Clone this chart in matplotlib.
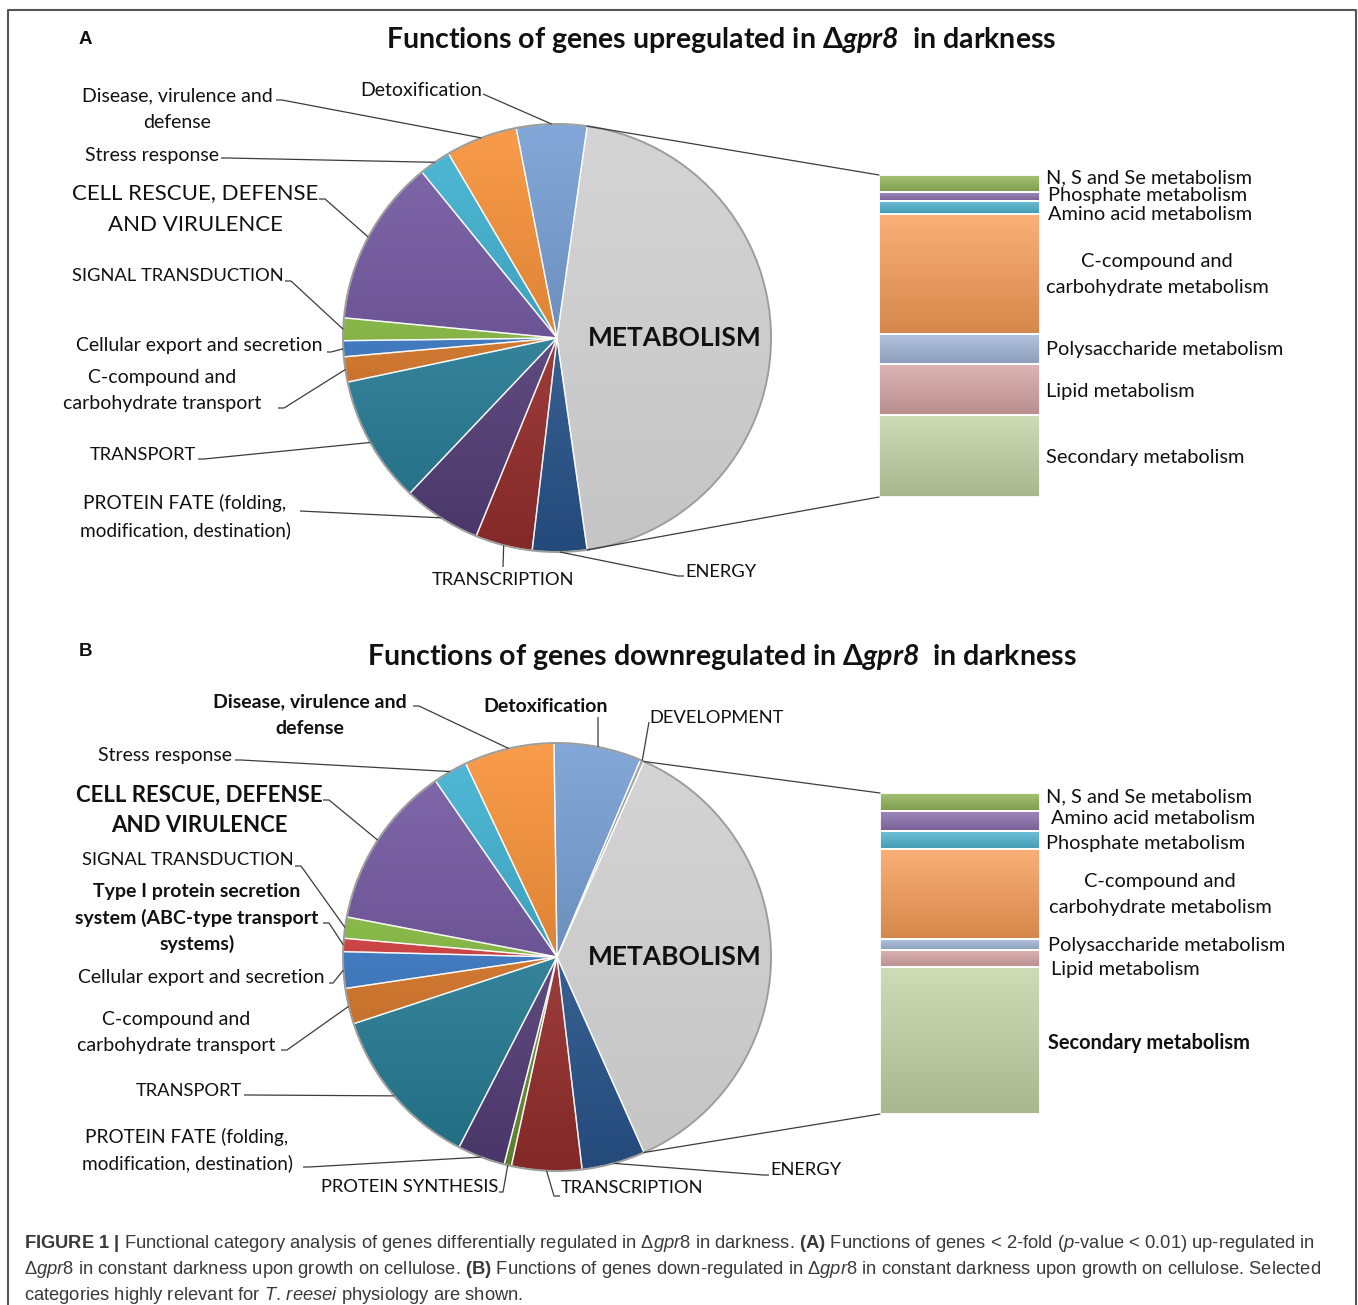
import numpy as np
import matplotlib.pyplot as plt
from matplotlib.colors import to_rgb
from matplotlib.patches import ConnectionPatch, Circle

W, H = 1358, 1305

plt.rcParams['font.family'] = ['Lato', 'DejaVu Sans']
plt.rcParams['mathtext.fontset'] = 'custom'
plt.rcParams['mathtext.rm'] = 'Liberation Sans'
plt.rcParams['mathtext.it'] = 'Liberation Sans:italic'
plt.rcParams['mathtext.bf'] = 'Liberation Sans:bold'
plt.rcParams['mathtext.bfit'] = 'Lato:italic:bold'

# ---- data: percentage of regulated genes per functional category ----
# pie slices listed clockwise, starting after the METABOLISM slice
up_cats = ["ENERGY", "TRANSCRIPTION", "PROTEIN FATE", "TRANSPORT",
           "C-compound transport", "Cellular export", "SIGNAL TRANSDUCTION",
           "CELL RESCUE", "Stress response", "Disease", "Detoxification"]
up_vals = [4.1, 4.3, 5.9, 9.6, 1.9, 1.2, 1.7, 12.6, 2.4, 5.4, 5.3]

down_cats = ["ENERGY", "TRANSCRIPTION", "PROTEIN SYNTHESIS", "PROTEIN FATE",
             "TRANSPORT", "C-compound transport", "Cellular export", "Type I",
             "SIGNAL TRANSDUCTION", "CELL RESCUE", "Stress response", "Disease",
             "Detoxification", "DEVELOPMENT"]
down_vals = [4.8, 5.3, 0.55, 3.6, 12.4, 2.7, 2.75, 1.0, 1.6, 12.4, 2.6, 6.8,
             6.6, 0.3]

# metabolism sub-categories (stacked bar, top to bottom)
up_met_cats = ["N, S and Se", "Phosphate", "Amino acid", "C-compound",
               "Polysaccharide", "Lipid", "Secondary"]
up_met_vals = [2.4, 1.2, 1.9, 16.9, 4.2, 7.3, 11.5]

down_met_cats = ["N, S and Se", "Amino acid", "Phosphate", "C-compound",
                 "Polysaccharide", "Lipid", "Secondary"]
down_met_vals = [2.1, 2.3, 2.0, 10.3, 1.2, 2.0, 16.8]

pie_colors = {
    "METABOLISM": "#cdcdcd", "ENERGY": "#2d5f9c", "TRANSCRIPTION": "#a83432",
    "PROTEIN SYNTHESIS": "#76a13a", "PROTEIN FATE": "#5e4585",
    "TRANSPORT": "#2a8aa6", "C-compound transport": "#e77d27",
    "Cellular export": "#3a7fd2", "Type I": "#e03c3c",
    "SIGNAL TRANSDUCTION": "#8cc540", "CELL RESCUE": "#6d509f",
    "Stress response": "#33aed0", "Disease": "#f88a2a",
    "Detoxification": "#6d98d1", "DEVELOPMENT": "#9a9a9a",
}
bar_colors = {
    "N, S and Se": "#93b65a", "Phosphate": "#8b6fae", "Amino acid": "#4fb4cf",
    "C-compound": "#f89e58", "Polysaccharide": "#a3b7d8", "Lipid": "#d7a5a5",
    "Secondary": "#c3d5a5",
}
bar_colors_down = dict(bar_colors, **{"Amino acid": "#8b6fae",
                                      "Phosphate": "#4fb4cf"})

LINE = "#3c3c3c"
FS = 14.0    # mixed-case labels, pt
FSC = 13.2   # all-caps labels, pt

# label layout: (category, lines, x, y of first line, line step, size,
#                weight, leader start, stub length)
up_labels = [
    ("Detoxification", ["Detoxification"], 421, 90, 0, FS, "normal", (483, 94), 0),
    ("Disease", ["Disease, virulence and", "defense"], 177, 96, 26, FS, "normal", (276, 100), 6),
    ("Stress response", ["Stress response"], 152, 155, 0, FS, "normal", (221, 158), 6),
    ("CELL RESCUE", ["CELL RESCUE, DEFENSE", "AND VIRULENCE"], 195, 193, 32, 16.0, "normal", (319, 199), 6),
    ("SIGNAL TRANSDUCTION", ["SIGNAL TRANSDUCTION"], 178, 276, 0, FSC, "normal", (285, 281), 6),
    ("Cellular export", ["Cellular export and secretion"], 199, 346, 0, FS, "normal", (327, 352), 4),
    ("C-compound transport", ["C-compound and", "carbohydrate transport"], 162, 378, 26, FS, "normal", (278, 408), 6),
    ("TRANSPORT", ["TRANSPORT"], 143, 455, 0, FSC, "normal", (198, 459), 6),
    ("PROTEIN FATE", ["PROTEIN FATE (folding,", "modification, destination)"], 185, 503, 27, 13.7, "normal", (300, 511), 0),
    ("TRANSCRIPTION", ["TRANSCRIPTION"], 503, 580, 0, FSC, "normal", (503, 567), 0),
    ("ENERGY", ["ENERGY"], 721, 572, 0, FSC, "normal", (684, 576), -6),
]
down_labels = [
    ("Detoxification", ["Detoxification"], 546, 706, 0, FS, "bold", (598, 717), 0),
    ("DEVELOPMENT", ["DEVELOPMENT"], 717, 718, 0, FSC, "normal", (649, 722), 0),
    ("Disease", ["Disease, virulence and", "defense"], 310, 702, 26, FS, "bold", (413, 706), 6),
    ("Stress response", ["Stress response"], 165, 756, 0, FS, "normal", (235, 760), 6),
    ("CELL RESCUE", ["CELL RESCUE, DEFENSE", "AND VIRULENCE"], 199, 795, 31, 16.0, "bold", (323, 800), 6),
    ("SIGNAL TRANSDUCTION", ["SIGNAL TRANSDUCTION"], 188, 860, 0, FSC, "normal", (295, 866), 6),
    ("Type I", ["Type I protein secretion", "system (ABC-type transport", "systems)"], 197, 892, 26, FS, "bold", (323, 923), 6),
    ("Cellular export", ["Cellular export and secretion"], 201, 978, 0, FS, "normal", (329, 983), 4),
    ("C-compound transport", ["C-compound and", "carbohydrate transport"], 176, 1020, 26, FS, "normal", (281, 1050), 6),
    ("TRANSPORT", ["TRANSPORT"], 189, 1091, 0, FSC, "normal", (244, 1095), 6),
    ("PROTEIN FATE", ["PROTEIN FATE (folding,", "modification, destination)"], 187, 1137, 26, 13.7, "normal", (303, 1167), 6),
    ("PROTEIN SYNTHESIS", ["PROTEIN SYNTHESIS"], 410, 1187, 0, FSC, "normal", (499, 1192), 4),
    ("TRANSCRIPTION", ["TRANSCRIPTION"], 632, 1188, 0, FSC, "normal", (560, 1196), -6),
    ("ENERGY", ["ENERGY"], 806, 1170, 0, FSC, "normal", (769, 1175), -6),
]

# bar labels: (lines, x, y of first line, line step, ha, weight)
up_bar_labels = [
    (["N, S and Se metabolism"], 1046, 178, 0, "left", "normal"),
    (["Phosphate metabolism"], 1048, 196, 0, "left", "normal"),
    (["Amino acid metabolism"], 1048, 214, 0, "left", "normal"),
    (["C-compound and", "carbohydrate metabolism"], 1157, 262, 26, "center", "normal"),
    (["Polysaccharide metabolism"], 1046, 350, 0, "left", "normal"),
    (["Lipid metabolism"], 1046, 391, 0, "left", "normal"),
    (["Secondary metabolism"], 1046, 457, 0, "left", "normal"),
]
down_bar_labels = [
    (["N, S and Se metabolism"], 1046, 797, 0, "left", "normal"),
    (["Amino acid metabolism"], 1051, 819, 0, "left", "normal"),
    (["Phosphate metabolism"], 1046, 843, 0, "left", "normal"),
    (["C-compound and", "carbohydrate metabolism"], 1160, 882, 26, "center", "normal"),
    (["Polysaccharide metabolism"], 1048, 946, 0, "left", "normal"),
    (["Lipid metabolism"], 1051, 969, 0, "left", "normal"),
    (["Secondary metabolism"], 1048, 1043, 0, "left", "bold"),
]
BAR_FS = 14.4


def gradient(color, n=128, light=0.2, dark=0.2):
    c = np.array(to_rgb(color))
    t = np.linspace(0, 1, n)[:, None]
    top = c + (1 - c) * light
    bot = c * (1 - dark)
    return (top * (1 - t) + bot * t)[:, None, :]


def put_lines(ax, lines, x, y, dy, ha, size, weight):
    for i, s in enumerate(lines):
        ax.text(x, H - (y + i * dy), s, ha=ha, va="center", fontsize=size,
                fontweight=weight, color="#111111", zorder=6)


def draw_panel(ax, center, r, cats, vals, met_cats, met_vals, bar_box,
               labels, bar_labels, bcolors):
    cx, cy = center[0], H - center[1]
    sizes = [sum(met_vals)] + list(vals)
    names = ["METABOLISM"] + list(cats)
    start = 360 * sizes[0] / sum(sizes) / 2
    wedges, _ = ax.pie(sizes, colors=[pie_colors[n] for n in names],
                       startangle=start, counterclock=False,
                       center=(cx, cy), radius=r,
                       wedgeprops=dict(edgecolor=(1, 1, 1, 0.75), linewidth=1.0))
    for w, n in zip(wedges, names):
        dark = 0.04 if n == "METABOLISM" else 0.22
        im = ax.imshow(gradient(pie_colors[n], light=0.15, dark=dark),
                       extent=(cx - r, cx + r, cy - r, cy + r),
                       aspect="auto", zorder=1, interpolation="bilinear")
        im.set_clip_path(w)
        w.set_facecolor("none")
        w.set_zorder(2)
    ax.add_patch(Circle((cx, cy), r, fill=False, ec="#9c9c9c", lw=1.4, zorder=3))
    ax.text(cx + 0.55 * r, cy, "METABOLISM", ha="center", va="center",
            fontsize=19, fontweight="bold", color="#111111", zorder=6)

    # leader lines from each label to the middle of its slice
    mids = {n: np.radians((w.theta1 + w.theta2) / 2) for w, n in zip(wedges, names)}
    for cat, lines, x, y, dy, size, weight, st, stub in labels:
        put_lines(ax, lines, x, y, dy, "center", size, weight)
        a = mids[cat]
        ex, ey = cx + r * np.cos(a), cy + r * np.sin(a)
        sx, sy = st[0], H - st[1]
        ax.plot([sx, sx + stub, ex], [sy, sy, ey], color=LINE, lw=0.9,
                zorder=5, solid_capstyle="butt")

    # stacked bar with the metabolism breakdown
    x0, y0, x1, y1 = bar_box
    bax = ax.figure.add_axes([x0 / W, 1 - y1 / H, (x1 - x0) / W, (y1 - y0) / H])
    bottoms = np.concatenate([[0], np.cumsum(met_vals)[:-1]])
    bars = bax.bar(0, met_vals, bottom=bottoms, width=1.0,
                   color=[bcolors[c] for c in met_cats],
                   edgecolor="white", linewidth=1.3)
    for b, c in zip(bars, met_cats):
        im = bax.imshow(gradient(bcolors[c], light=0.18, dark=0.14),
                        extent=(b.get_x(), b.get_x() + b.get_width(),
                                b.get_y() + b.get_height(), b.get_y()),
                        aspect="auto", zorder=1, interpolation="bilinear")
        im.set_clip_path(b)
        b.set_facecolor("none")
        b.set_zorder(2)
    total = sum(met_vals)
    bax.set_xlim(-0.5, 0.5)
    bax.set_ylim(total, 0)
    bax.axis("off")

    w0 = wedges[0]
    for ang, yb in ((w0.theta2, 0), (w0.theta1, total)):
        p = (cx + r * np.cos(np.radians(ang)), cy + r * np.sin(np.radians(ang)))
        con = ConnectionPatch(xyA=p, coordsA=ax.transData, xyB=(-0.5, yb),
                              coordsB=bax.transData, color=LINE, lw=0.9)
        ax.figure.add_artist(con)

    for lines, x, y, dy, ha, weight in bar_labels:
        put_lines(ax, lines, x, y, dy, ha, BAR_FS, weight)


fig = plt.figure(figsize=(W / 100, H / 100), dpi=100)
ax = fig.add_axes([0, 0, 1, 1])

draw_panel(ax, (557, 338), 214, up_cats, up_vals, up_met_cats, up_met_vals,
           (879, 175, 1040, 497), up_labels, up_bar_labels, bar_colors)
draw_panel(ax, (557, 957), 214, down_cats, down_vals, down_met_cats,
           down_met_vals, (880, 793, 1040, 1114), down_labels,
           down_bar_labels, bar_colors_down)

ax.set_xlim(0, W)
ax.set_ylim(0, H)
ax.set_aspect("auto")
ax.axis("off")

# panel titles and letters
ax.text(721, H - 40, r"Functions of genes upregulated in Δ$\mathbfit{gpr8}$  in darkness",
        ha="center", va="center", fontsize=20.5, fontweight="bold", color="#111111")
ax.text(722, H - 657, r"Functions of genes downregulated in Δ$\mathbfit{gpr8}$  in darkness",
        ha="center", va="center", fontsize=20.5, fontweight="bold", color="#111111")
for letter, y in (("A", 40), ("B", 651)):
    ax.text(79, H - y, letter, ha="left", va="center", fontsize=13.5,
            fontweight="bold", family="Liberation Sans", color="#111111")

# frame
ax.plot([8, 8, 1356, 1356], [0, H - 10, H - 10, 0], color="#555555", lw=1.5)

# caption
cap = [
    r"$\mathbf{FIGURE\ 1\ |}$ Functional category analysis of genes differentially regulated in Δ$\mathit{gpr8}$ in darkness. $\mathbf{(A)}$ Functions of genes < 2-fold ($\mathit{p}$-value < 0.01) up-regulated in",
    r"Δ$\mathit{gpr8}$ in constant darkness upon growth on cellulose. $\mathbf{(B)}$ Functions of genes down-regulated in Δ$\mathit{gpr8}$ in constant darkness upon growth on cellulose. Selected",
    r"categories highly relevant for $\mathit{T.\,reesei}$ physiology are shown.",
]
for i, s in enumerate(cap):
    ax.text(24, H - (1243 + 26 * i), s, ha="left", va="center", fontsize=13.2,
            family="Liberation Sans", color="#3a3a3a")

fig.savefig("out.png", dpi=100)
